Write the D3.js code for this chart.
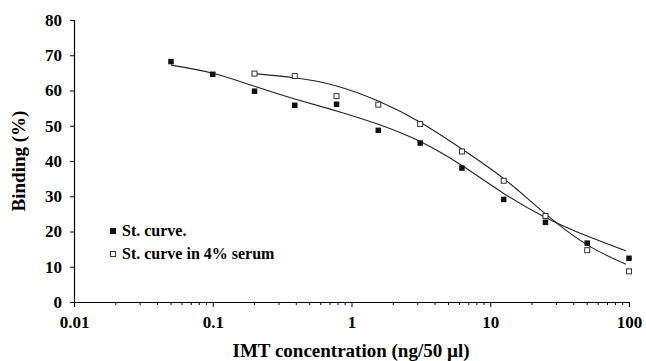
<!DOCTYPE html>
<html>
<head>
<meta charset="utf-8">
<script src="https://cdn.jsdelivr.net/npm/d3@7"></script>
<style>
	body { margin: 0; background: #fff; }
	text { font-family: "Liberation Serif", "Times New Roman", serif; font-weight: bold; fill: #000; }
</style>
</head>
<body>
<svg width="646" height="361"></svg>
<script>
// measured points, x in ng/50 ul
var doses = [0.05, 0.1, 0.2, 0.39, 0.78, 1.56, 3.125, 6.25, 12.5, 25, 50, 100];
var stCurve = [68.2, 64.6, 59.8, 55.8, 56.1, 48.7, 45.1, 38.0, 29.1, 22.6, 16.7, 12.4];
var serumDoses = [0.2, 0.39, 0.78, 1.56, 3.125, 6.25, 12.5, 25, 50, 100];
var serumCurve = [64.8, 64.1, 58.4, 56.0, 50.5, 42.7, 34.4, 24.4, 14.7, 8.7];

// fitted lines
var stFitX = [0.05, 0.1, 0.2, 0.39, 0.78, 1.56, 3.125, 6.25, 12.5, 25, 50, 95];
var stFitY = [67.2, 64.9, 61.2, 57.6, 54.2, 50.4, 45.5, 38.7, 30.8, 24.0, 18.7, 14.5];
var serumFitX = [0.2, 0.39, 0.78, 1.56, 3.125, 6.25, 12.5, 25, 50, 95];
var serumFitY = [64.8, 63.6, 61.3, 57.0, 51.0, 43.4, 35.0, 25.0, 16.2, 10.7];

var xTicks = [0.01, 0.1, 1, 10, 100];
var yTicks = [0, 10, 20, 30, 40, 50, 60, 70, 80];
var legendLabels = ["St. curve.", "St. curve in 4% serum"];

var svg = d3.select("svg");

var x = d3.scaleLog().domain([0.01, 100]).range([74, 629]);
var y = d3.scaleLinear().domain([0, 80]).range([302, 20]);

// minor ticks 2..9 in each decade
var minorTicks = [];
xTicks.slice(0, -1).forEach(function(d){
	for (var k = 2; k < 10; k++) minorTicks.push(d * k);
});

var xAxis = svg.append("g")
	.attr("transform", "translate(0,302)")
	.call(d3.axisBottom(x).tickValues(xTicks).tickFormat(d3.format("~g")).tickSize(5).tickPadding(9));

xAxis.selectAll(".minor")
	.data(minorTicks).enter()
	.append("line")
	.attr("class", "minor")
	.attr("x1", function(d){ return x(d) }).attr("x2", function(d){ return x(d) })
	.attr("y1", 0).attr("y2", 3)
	.attr("stroke", "#000");

var yAxis = svg.append("g")
	.attr("transform", "translate(74,0)")
	.call(d3.axisLeft(y).tickValues(yTicks).tickSize(4).tickPadding(8));

svg.selectAll(".domain").attr("stroke", "#000").attr("stroke-width", 1.2);
svg.selectAll(".tick line").attr("stroke", "#000");
svg.selectAll(".tick text").style("font-size", "17px").style("font-family", "Liberation Serif").style("font-weight", "bold");

// titles
svg.append("text")
	.attr("x", 351).attr("y", 357)
	.attr("text-anchor", "middle")
	.style("font-size", "19px")
	.text("IMT concentration (ng/50 \u00b5l)");

svg.append("text")
	.attr("transform", "translate(25,161) rotate(-90)")
	.attr("text-anchor", "middle")
	.style("font-size", "19px")
	.text("Binding (%)");

// fitted curves
var line = d3.line()
	.x(function(d){ return x(d[0]) })
	.y(function(d){ return y(d[1]) })
	.curve(d3.curveNatural);

svg.append("path")
	.datum(d3.zip(stFitX, stFitY))
	.attr("d", line)
	.attr("fill", "none").attr("stroke", "#222").attr("stroke-width", 1.1);

svg.append("path")
	.datum(d3.zip(serumFitX, serumFitY))
	.attr("d", line)
	.attr("fill", "none").attr("stroke", "#222").attr("stroke-width", 1.1);

// markers
var FILLED = 5.5, OPEN = 5;

svg.selectAll(".st")
	.data(d3.zip(doses, stCurve)).enter()
	.append("rect")
	.attr("class", "st")
	.attr("x", function(d){ return x(d[0]) - FILLED/2 })
	.attr("y", function(d){ return y(d[1]) - FILLED/2 })
	.attr("width", FILLED).attr("height", FILLED)
	.attr("fill", "#111");

svg.selectAll(".serum")
	.data(d3.zip(serumDoses, serumCurve)).enter()
	.append("rect")
	.attr("class", "serum")
	.attr("x", function(d){ return x(d[0]) - OPEN/2 })
	.attr("y", function(d){ return y(d[1]) - OPEN/2 })
	.attr("width", OPEN).attr("height", OPEN)
	.attr("fill", "#fff").attr("stroke", "#333").attr("stroke-width", 1);

// legend
var legend = svg.append("g").attr("transform", "translate(113,231)");
legendLabels.forEach(function(label, i){
	var g = legend.append("g").attr("transform", "translate(0," + (i * 23) + ")");
	if (i == 0) {
		g.append("rect").attr("x", -3).attr("y", -3).attr("width", 6).attr("height", 6).attr("fill", "#111");
	} else {
		g.append("rect").attr("x", -2.5).attr("y", -2.5).attr("width", 5).attr("height", 5)
			.attr("fill", "#fff").attr("stroke", "#333");
	}
	g.append("text").attr("x", 9).attr("y", 5).style("font-size", "16px").text(label);
});
</script>
</body>
</html>
